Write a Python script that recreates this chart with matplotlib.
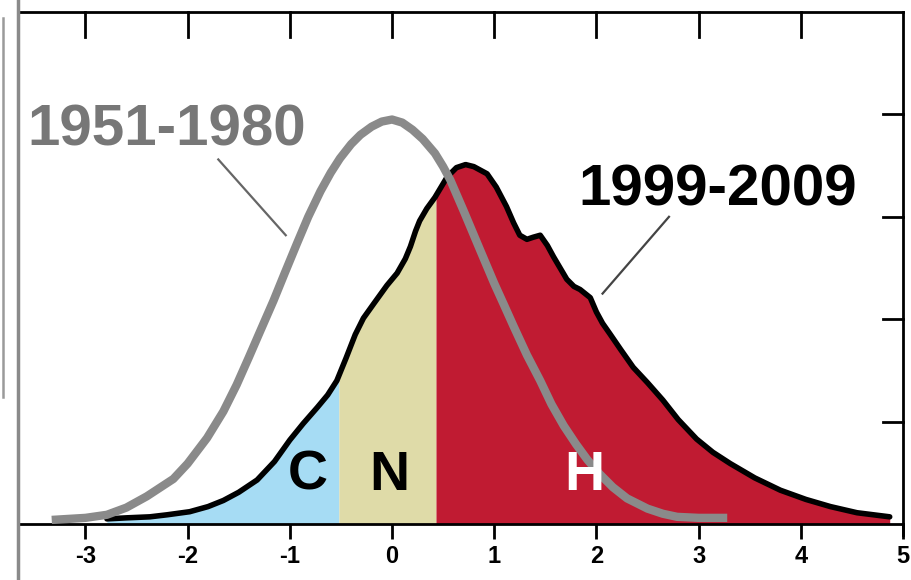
import matplotlib
matplotlib.use("Agg")
import matplotlib.pyplot as plt
import numpy as np
from matplotlib.lines import Line2D

# 1951-1980 distribution (grey curve)
base_x = [-3.33, -3.00, -2.79, -2.60, -2.40, -2.14, -2.00, -1.81, -1.65, -1.52,
          -1.40, -1.30, -1.16, -1.05, -0.93, -0.82, -0.70, -0.60, -0.51, -0.40,
          -0.31, -0.20, -0.10, 0.00, 0.10, 0.20, 0.30, 0.42, 0.50, 0.57,
          0.70, 0.86, 1.00, 1.10, 1.19, 1.32, 1.45, 1.56, 1.68, 1.80,
          1.91, 2.03, 2.16, 2.30, 2.50, 2.65, 2.79, 3.00, 3.28]
base_y = [0.04, 0.06, 0.09, 0.16, 0.27, 0.44, 0.59, 0.84, 1.10, 1.36,
          1.63, 1.86, 2.18, 2.45, 2.74, 3.00, 3.25, 3.43, 3.57, 3.71,
          3.80, 3.88, 3.93, 3.95, 3.92, 3.85, 3.76, 3.62, 3.49, 3.36,
          3.06, 2.68, 2.35, 2.13, 1.93, 1.65, 1.40, 1.17, 0.96, 0.78,
          0.63, 0.49, 0.36, 0.25, 0.15, 0.10, 0.07, 0.06, 0.06]

# 1999-2009 distribution (black outline, filled)
rec_x = [-2.79, -2.60, -2.37, -2.20, -1.98, -1.80, -1.65, -1.50, -1.32, -1.15,
         -1.00, -0.87, -0.73, -0.63, -0.54, -0.45, -0.36, -0.28, -0.18, -0.05,
         0.05, 0.13, 0.18, 0.23, 0.27, 0.34, 0.42, 0.54, 0.63, 0.72,
         0.80, 0.93, 1.02, 1.12, 1.19, 1.25, 1.32, 1.38, 1.45, 1.52,
         1.58, 1.71, 1.78, 1.84, 1.94, 2.00, 2.06, 2.13, 2.24, 2.36,
         2.50, 2.65, 2.80, 2.98, 3.14, 3.31, 3.55, 3.80, 4.05, 4.29,
         4.55, 4.87]
rec_y = [0.05, 0.06, 0.07, 0.09, 0.12, 0.17, 0.23, 0.31, 0.43, 0.61,
         0.82, 0.98, 1.14, 1.26, 1.40, 1.62, 1.85, 2.01, 2.15, 2.33,
         2.45, 2.59, 2.71, 2.86, 2.96, 3.08, 3.19, 3.39, 3.48, 3.51,
         3.49, 3.42, 3.29, 3.10, 2.94, 2.82, 2.78, 2.80, 2.82, 2.72,
         2.61, 2.39, 2.32, 2.29, 2.21, 2.07, 1.96, 1.86, 1.70, 1.53,
         1.38, 1.21, 1.02, 0.83, 0.70, 0.59, 0.45, 0.33, 0.24, 0.17,
         0.11, 0.07]

# category boundaries (cold / normal / hot)
bounds = [-0.52, 0.43]
cat_labels = ["C", "N", "H"]
cat_colors = ["#a6dcf4", "#dfdba8", "#c01b32"]

x_ticks = [-3, -2, -1, 0, 1, 2, 3, 4, 5]
y_ticks = [1, 2, 3, 4]

fig = plt.figure(figsize=(9.12, 5.8), dpi=100)
ax = fig.add_axes([18/912, 56/580, (903-18)/912, (524-12)/580])
ax.set_xlim(-3.66, 5.0)
ax.set_ylim(0, 5.0)

rx = np.array(rec_x)
ry = np.array(rec_y)
edges = [rx[0], bounds[0], bounds[1], rx[-1]]
for i in range(3):
    m = (rx > edges[i]) & (rx < edges[i+1])
    xs = np.concatenate([[edges[i]], rx[m], [edges[i+1]]])
    ys = np.concatenate([[np.interp(edges[i], rx, ry)], ry[m], [np.interp(edges[i+1], rx, ry)]])
    ax.fill_between(xs, 0, ys, color=cat_colors[i], lw=0, zorder=1)

ax.plot(rec_x, rec_y, color="black", lw=4, solid_capstyle="round", solid_joinstyle="round", zorder=3)
ax.plot(base_x, base_y, color="#8a8a8a", lw=6, solid_capstyle="butt", solid_joinstyle="round", zorder=4)

font = "Liberation Sans"
ax.text(-3.57, 3.84, "1951-1980", fontsize=42, fontweight="bold", color="#777777",
        family=font, ha="left", va="center", zorder=5)
ax.text(1.82, 3.26, "1999-2009", fontsize=42, fontweight="bold", color="black",
        family=font, ha="left", va="center", zorder=5)
ax.plot([-1.70, -1.04], [3.56, 2.82], color="#666666", lw=1.6, zorder=5)
ax.plot([2.71, 2.06], [3.00, 2.25], color="#444444", lw=1.6, zorder=5)

label_x = [-0.82, -0.03, 1.88]
label_c = ["black", "black", "white"]
for lx, lab, c in zip(label_x, cat_labels, label_c):
    ax.text(lx, 0.47, lab, fontsize=40, fontweight="bold", color=c, family=font,
            ha="center", va="center", zorder=6)

# ticks
ax.set_xticks(x_ticks)
ax.set_xticklabels([str(t) for t in x_ticks], fontsize=17, fontweight="bold", family=font)
ax.tick_params(axis="x", direction="out", length=11, width=2, pad=4, top=False)
ax.set_yticks([])
for t in x_ticks[:-1]:
    ax.plot([t, t], [5.0, 5.0 - 0.245], color="black", lw=2, clip_on=False, zorder=7)
for t in y_ticks:
    ax.plot([5.0 - 0.195, 5.0], [t, t], color="black", lw=2, clip_on=False, zorder=7)

for s in ["top", "bottom", "right"]:
    ax.spines[s].set_linewidth(2)
    ax.spines[s].set_color("black")
ax.spines["left"].set_visible(False)

# left spine spanning the full figure height, plus the thin grey edge line
fig.add_artist(Line2D([18/912, 18/912], [0, 1], transform=fig.transFigure, color="#8a8a8a", lw=2.5))
fig.add_artist(Line2D([3/912, 3/912], [1 - 18/580, 1 - 397/580], transform=fig.transFigure, color="#9a9a9a", lw=1.8))
# right spine continues a little below the axis
ax.plot([5.0, 5.0], [0, -0.11], color="black", lw=2, clip_on=False, zorder=7)

fig.savefig("out.png", dpi=100)
